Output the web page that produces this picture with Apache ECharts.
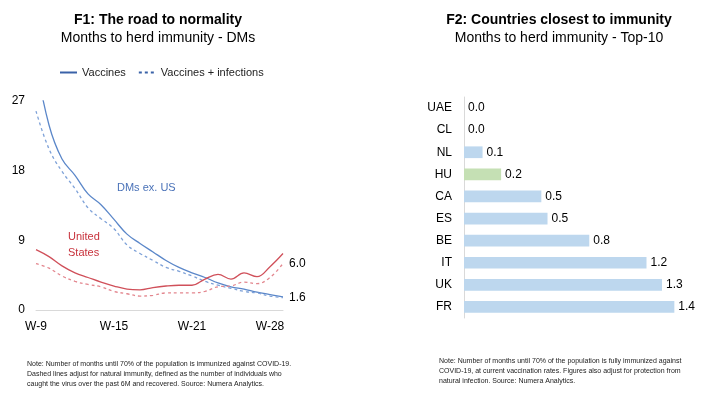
<!DOCTYPE html>
<html>
<head>
<meta charset="utf-8">
<script src="https://cdn.jsdelivr.net/npm/echarts@6/dist/echarts.min.js"></script>
<style>
  html, body { margin: 0; background: #fff; }
  #main { width: 721px; height: 396px; }
</style>
</head>
<body>
<div id="main"></div>
<script>
var FONT = '"Liberation Sans", Arial, sans-serif';

// F1: months to herd immunity, weekly
var weeks = ['W-9', 'W-10', 'W-11', 'W-12', 'W-13', 'W-14', 'W-15', 'W-16', 'W-17', 'W-18',
             'W-19', 'W-20', 'W-21', 'W-22', 'W-23', 'W-24', 'W-25', 'W-26', 'W-28', 'W-29'];
var dmVaccines    = [32, 23.9, 19.5, 17.4, 15.0, 13.6, 11.7, 9.8, 8.6, 7.5,
                     6.4, 5.5, 4.8, 4.2, 3.5, 3.0, 2.7, 2.3, 2.0, 1.7];
var dmVaccinesInf = [25.7, 20.8, 17.9, 15.7, 13.2, 11.8, 10.5, 8.4, 7.3, 6.4,
                     5.5, 5.0, 4.4, 3.7, 3.2, 2.8, 2.4, 2.2, 1.8, 1.6];
var usVaccines    = [7.8, 6.9, 5.7, 4.8, 4.2, 3.6, 3.1, 2.7, 2.6, 2.9,
                     3.1, 3.2, 3.2, 4.0, 4.6, 4.0, 4.8, 4.3, 5.6, 7.3];
var usVaccinesInf = [6.0, 5.4, 4.4, 3.7, 3.3, 3.0, 2.4, 2.1, 1.8, 1.9,
                     2.2, 2.2, 2.2, 2.4, 3.0, 3.1, 3.6, 3.4, 4.2, 6.0];

// F2: top-10 countries
var countries = ['UAE', 'CL', 'NL', 'HU', 'CA', 'ES', 'BE', 'IT', 'UK', 'FR'];
var monthsLeft = [0.0, 0.0, 0.12, 0.24, 0.50, 0.54, 0.81, 1.18, 1.28, 1.36];

var BLUE = '#5B87C9', BLUE_D = '#7FA2D8';
var RED = '#D0505A', RED_D = '#E3868E';

function lineSeries(name, data, color, dashed, withEnd) {
  return {
    name: name,
    type: 'line',
    xAxisIndex: 0,
    yAxisIndex: 0,
    data: data,
    smooth: 0.4,
    symbol: 'none',
    itemStyle: { color: color },
    lineStyle: { color: color, width: 1.3, type: dashed ? [3, 3] : 'solid' },
    endLabel: {
      show: withEnd,
      distance: 6,
      formatter: function (p) { return p.value.toFixed(1); },
      fontFamily: FONT,
      fontSize: 12,
      color: '#000'
    },
    emphasis: { disabled: true }
  };
}

var chart = echarts.init(document.getElementById('main'), null, { renderer: 'canvas' });

chart.setOption({
  animation: false,
  textStyle: { fontFamily: FONT },
  legend: {
    data: ['Vaccines', 'Vaccines + infections'],
    left: 54,
    top: 62,
    itemWidth: 17,
    itemHeight: 8,
    itemGap: 12,
    itemStyle: { opacity: 0 },
    lineStyle: { color: '#3A62A8' },
    textStyle: { fontFamily: FONT, fontSize: 11, color: '#222' }
  },
  grid: [
    { left: 36, top: 101, width: 247, height: 209 },
    { left: 464, top: 97, width: 232, height: 221 }
  ],
  xAxis: [
    {
      gridIndex: 0,
      type: 'category',
      data: weeks,
      boundaryGap: false,
      axisLine: { lineStyle: { color: '#D9D9D9' } },
      axisTick: { show: false },
      axisLabel: { interval: 5, margin: 11, fontFamily: FONT, fontSize: 12, color: '#000' }
    },
    { gridIndex: 1, type: 'value', min: 0, max: 1.5, show: false }
  ],
  yAxis: [
    {
      gridIndex: 0,
      type: 'value',
      min: 0,
      max: 27,
      interval: 9,
      axisLine: { show: false },
      axisTick: { show: false },
      splitLine: { show: false },
      axisLabel: { margin: 11, fontFamily: FONT, fontSize: 12, color: '#000' }
    },
    {
      gridIndex: 1,
      type: 'category',
      data: countries,
      inverse: true,
      axisLine: { lineStyle: { color: '#D9D9D9' } },
      axisTick: { show: false },
      axisLabel: { margin: 12, fontFamily: FONT, fontSize: 12, color: '#000' }
    }
  ],
  series: [
    lineSeries('Vaccines', dmVaccines, BLUE, false, false),
    lineSeries('Vaccines + infections', dmVaccinesInf, BLUE_D, true, true),
    lineSeries('Vaccines', usVaccines, RED, false, false),
    lineSeries('Vaccines + infections', usVaccinesInf, RED_D, true, true),
    {
      type: 'bar',
      xAxisIndex: 1,
      yAxisIndex: 1,
      data: monthsLeft,
      barWidth: '53%',
      itemStyle: {
        color: function (p) { return p.name === 'HU' ? '#C5E0B4' : '#BDD7EE'; }
      },
      label: {
        show: true,
        position: 'right',
        distance: 4,
        formatter: function (p) { return p.value.toFixed(1); },
        fontFamily: FONT,
        fontSize: 12,
        color: '#000'
      },
      emphasis: { disabled: true }
    }
  ],
  graphic: [
    { type: 'text', x: 158, y: 20, style: { text: 'F1: The road to normality', font: 'bold 14px ' + FONT, fill: '#000', align: 'center', verticalAlign: 'middle' } },
    { type: 'text', x: 158, y: 38, style: { text: 'Months to herd immunity - DMs', font: '14px ' + FONT, fill: '#000', align: 'center', verticalAlign: 'middle' } },
    { type: 'text', x: 559, y: 20, style: { text: 'F2: Countries closest to immunity', font: 'bold 14px ' + FONT, fill: '#000', align: 'center', verticalAlign: 'middle' } },
    { type: 'text', x: 559, y: 38, style: { text: 'Months to herd immunity - Top-10', font: '14px ' + FONT, fill: '#000', align: 'center', verticalAlign: 'middle' } },
    { type: 'text', x: 117, y: 188, style: { text: 'DMs ex. US', font: '11px ' + FONT, fill: '#4A72B8', verticalAlign: 'middle' } },
    { type: 'text', x: 68, y: 245, style: { text: 'United\nStates', font: '11px ' + FONT, fill: '#C8323C', lineHeight: 16, verticalAlign: 'middle' } },
    {
      type: 'text', x: 27, y: 359,
      style: {
        text: 'Note: Number of months until 70% of the population is immunized against COVID-19.\n' +
              'Dashed lines adjust for natural immunity, defined as the number of individuals who\n' +
              'caught the virus over the past 6M and recovered. Source: Numera Analytics.',
        font: '7px ' + FONT, fill: '#222', lineHeight: 10
      }
    },
    {
      type: 'text', x: 439, y: 356,
      style: {
        text: 'Note: Number of months until 70% of the population is fully immunized against\n' +
              'COVID-19, at current vaccination rates. Figures also adjust for protection from\n' +
              'natural infection. Source: Numera Analytics.',
        font: '7px ' + FONT, fill: '#222', lineHeight: 10
      }
    }
  ]
});
</script>
</body>
</html>
